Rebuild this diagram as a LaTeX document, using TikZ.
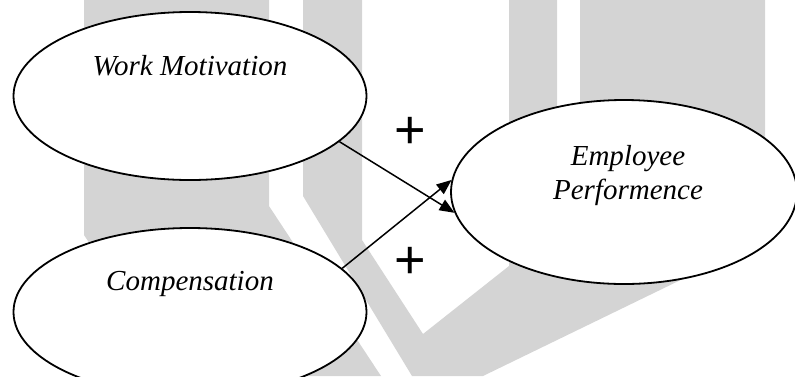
\documentclass[tikz,border=0pt]{standalone}
\usepackage{fontspec}
\setmainfont{Liberation Serif}
\newfontfamily\signfont{Liberation Sans}
\usepackage{tikz}
\usetikzlibrary{shapes,arrows.meta}
\definecolor{wmgray}{RGB}{212,212,212}
\tikzset{oval/.style={ellipse,draw,line width=1.8pt,fill=white,inner sep=0pt},
  varname/.style={font=\fontsize{29}{34}\selectfont\itshape,anchor=base,inner sep=0pt},
  sign/.style={font=\signfont\fontsize{54}{54}\selectfont,anchor=base,inner sep=0pt}}

\begin{document}
\begin{tikzpicture}[x=1pt,y=-1pt,>={Triangle[length=15pt,width=12pt]}]
    \useasboundingbox (0,0) rectangle (795,376);
    % watermark in the background
    \fill [wmgray] (84,0) -- (269,0) -- (269,206) -- (381,376) -- (178,376) -- (84,235) -- cycle;
    \fill [wmgray] (303,0) -- (362,0) -- (362,240) -- (423,334) -- (509,266) -- (509,0) -- (557,0)
        -- (557,200) -- (580,200) -- (580,0) -- (765,0) -- (765,239) -- (483,376) -- (412,376)
        -- (303,196) -- cycle;

    \node[oval,minimum width=353pt,minimum height=168pt] (wm) at (190,96) {};
    \node[oval,minimum width=353pt,minimum height=168pt] (comp) at (190,312) {};
    \node[oval,minimum width=346pt,minimum height=184pt] (ep) at (624,192) {};

    \node[varname] (wmtext) at (190,75) {Work Motivation};
    \node[varname] (comptext) at (190,290) {Compensation};
    \node[varname] (eptext) at (628,165) {Employee};
    \node[varname] (eptexttwo) at (628,199) {Performence};

    \node[sign] (plustop) at (410.5,148.5) {+};
    \node[sign] (plusbot) at (410.5,278.5) {+};

    \draw [->,line width=1.5pt] (wm.-17.6) to [] (ep.187);
    \draw [->,line width=1.5pt] (comp.16.8) to [] (ep.176.3);
\end{tikzpicture}
\end{document}
